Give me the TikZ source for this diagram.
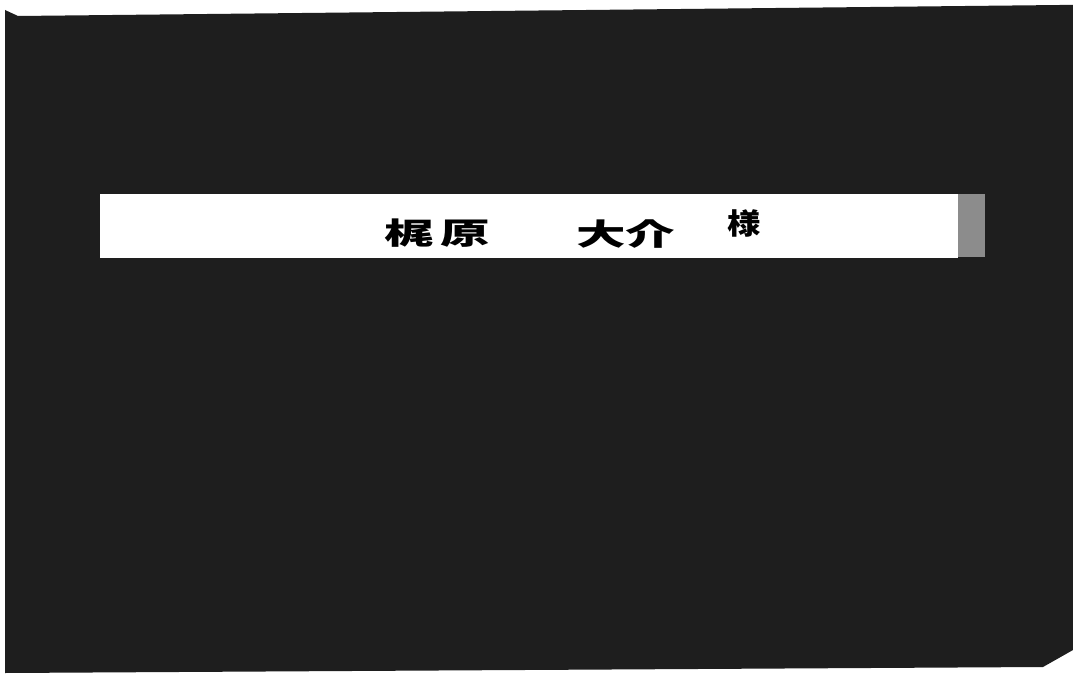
\documentclass[tikz,border=0pt]{standalone}
\usepackage{fontspec}
\newfontfamily\cjk{Noto Sans CJK JP}
\usepackage{tikz}
\definecolor{cover}{HTML}{1E1E1E}
\definecolor{tabgrey}{HTML}{8C8C8C}
\tikzstyle{stripbox} = [rectangle,fill=white,draw=none,inner sep=0pt,anchor=north west,minimum width=858pt,minimum height=64pt]
\tikzstyle{gripbox} = [rectangle,fill=tabgrey,draw=none,inner sep=0pt,anchor=north west,minimum width=27pt,minimum height=63pt]
\tikzstyle{namebox} = [text=black,inner sep=0pt,anchor=base,xscale=1.65,font=\cjk\bfseries\fontsize{30}{30}\selectfont]
\tikzstyle{honorbox} = [text=black,inner sep=0pt,anchor=base,xscale=1.15,font=\cjk\bfseries\fontsize{29}{29}\selectfont]

\begin{document}
\begin{tikzpicture}[x=1pt,y=-1pt]
\useasboundingbox (0,0) rectangle (1073,679);
\fill[white] (0,0) rectangle (1073,679);
% cover board
\fill[cover] (5,10) -- (18,16) -- (1060,5) -- (1073,5) -- (1073,650) -- (1043,667) -- (5,673) -- cycle;
% label
\node (label) [stripbox] at (100,194) {};
\node (tab) [gripbox] at (958,194) {};
\node (kaji) [namebox] at (409,244) {梶};
\node (hara) [namebox] at (465,244) {原};
\node (dai) [namebox] at (601,245) {大};
\node (suke) [namebox] at (650,245) {介};
\node (sama) [honorbox] at (744,234) {様};
\end{tikzpicture}
\end{document}
